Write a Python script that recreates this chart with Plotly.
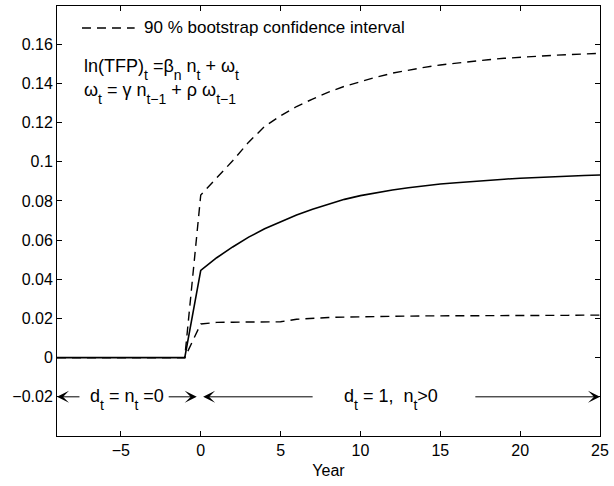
import plotly.graph_objects as go

# ---- data ----
years = [-9, -8, -7, -6, -5, -4, -3, -2, -1,
         0, 1, 2, 3, 4, 5, 6, 7, 8, 9, 10, 11, 12, 13, 14, 15, 16, 17, 18, 19, 20,
         21, 22, 23, 24, 25]
irf = [0, 0, 0, 0, 0, 0, 0, 0, 0,
       0.0445, 0.0510, 0.0565, 0.0615, 0.0658, 0.0695, 0.0728, 0.0758, 0.0785, 0.0808,
       0.0827, 0.0843, 0.0856, 0.0867, 0.0877, 0.0886, 0.0893, 0.0900, 0.0906, 0.0911,
       0.0916, 0.0920, 0.0924, 0.0927, 0.0930, 0.0932]
upper = [0, 0, 0, 0, 0, 0, 0, 0, 0,
         0.0830, 0.0915, 0.1005, 0.1100, 0.1180, 0.1235, 0.1282, 0.1320, 0.1355, 0.1385,
         0.1410, 0.1432, 0.1452, 0.1468, 0.1482, 0.1494, 0.1504, 0.1513, 0.1521, 0.1528,
         0.1534, 0.1539, 0.1543, 0.1547, 0.1550, 0.1553]
lower = [0, 0, 0, 0, 0, 0, 0, 0, 0,
         0.0172, 0.0180, 0.0181, 0.0181, 0.0181, 0.0183, 0.0196, 0.0202, 0.0205, 0.0207,
         0.0209, 0.0210, 0.0211, 0.0212, 0.0213, 0.0213, 0.0214, 0.0214, 0.0215, 0.0215,
         0.0215, 0.0216, 0.0216, 0.0216, 0.0217, 0.0217]

x_ticks = [-5, 0, 5, 10, 15, 20, 25]
x_tick_labels = ["\u22125", "0", "5", "10", "15", "20", "25"]
y_ticks = [-0.02, 0, 0.02, 0.04, 0.06, 0.08, 0.1, 0.12, 0.14, 0.16]
y_tick_labels = ["\u22120.02", "0", "0.02", "0.04", "0.06", "0.08", "0.1", "0.12", "0.14", "0.16"]

legend_label = "90 % bootstrap confidence interval"


def sb(s):
    # MATLAB-like subscript: large and dropped well below the baseline
    return f'<span style="font-size:14px;baseline-shift:-8px">{s}</span>'


eq1 = f"ln(TFP){sb('t')} =\u03b2{sb('n')} n{sb('t')} + \u03c9{sb('t')}"
eq2 = f"\u03c9{sb('t')} = \u03b3 n{sb('t\u22121')} + \u03c1 \u03c9{sb('t\u22121')}"
regime1 = f"d{sb('t')} = n{sb('t')} =0"
regime2 = f"d{sb('t')} = 1,&nbsp; n{sb('t')}&gt;0"

FONT = "Liberation Sans, Arial, Helvetica, sans-serif"
dash = "9px,6px"

fig = go.Figure()
fig.add_trace(go.Scatter(x=years, y=upper, mode="lines",
                         line=dict(color="black", width=1.4, dash=dash), showlegend=False))
fig.add_trace(go.Scatter(x=years, y=lower, mode="lines",
                         line=dict(color="black", width=1.4, dash=dash), showlegend=False))
fig.add_trace(go.Scatter(x=years, y=irf, mode="lines",
                         line=dict(color="black", width=1.6), showlegend=False))

# legend sample (dashed line + text)
fig.add_shape(type="line", xref="paper", yref="paper", x0=0.046, x1=0.143, y0=0.949, y1=0.949,
              line=dict(color="black", width=1.4, dash=dash))
fig.add_annotation(xref="paper", yref="paper", x=0.157, y=0.949, text=legend_label,
                   showarrow=False, xanchor="left", yanchor="middle", font=dict(size=17))

# equations
fig.add_annotation(xref="paper", yref="paper", x=0.046, y=0.853, text=eq1,
                   showarrow=False, xanchor="left", yanchor="middle", font=dict(size=18))
fig.add_annotation(xref="paper", yref="paper", x=0.046, y=0.796, text=eq2,
                   showarrow=False, xanchor="left", yanchor="middle", font=dict(size=18))

# regime arrows
arrows = [(-9.0, -7.5), (-0.25, -2.1), (0.15, 7.1), (25.0, 17.1)]
for head, tail in arrows:
    fig.add_annotation(x=head, y=-0.02, ax=tail, ay=-0.02, xref="x", yref="y",
                       axref="x", ayref="y", text="", showarrow=True,
                       arrowhead=3, arrowsize=2, arrowwidth=1, arrowcolor="black", standoff=0)
fig.add_annotation(x=-4.6, y=-0.02, xref="x", yref="y", text=regime1, showarrow=False,
                   xanchor="center", yanchor="middle", yshift=-3, font=dict(size=18))
fig.add_annotation(x=11.9, y=-0.02, xref="x", yref="y", text=regime2, showarrow=False,
                   xanchor="center", yanchor="middle", yshift=-3, font=dict(size=18))

axis_common = dict(showline=True, linecolor="black", linewidth=1, mirror="ticks",
                   ticks="inside", ticklen=5, tickcolor="black", tickwidth=1,
                   showgrid=False, zeroline=False, tickfont=dict(size=16, color="black"))
fig.update_xaxes(range=[-9, 25], tickvals=x_ticks, ticktext=x_tick_labels,
                 title=dict(text="Year", font=dict(size=16, color="black"), standoff=6),
                 **axis_common)
fig.update_yaxes(range=[-0.04, 0.1795], tickvals=y_ticks, ticktext=y_tick_labels,
                 **axis_common)

fig.update_layout(width=614, height=486, margin=dict(l=57, r=11, t=5, b=50),
                  plot_bgcolor="white", paper_bgcolor="white",
                  font=dict(family=FONT, size=16, color="black"), showlegend=False)

fig.write_html("out.html", config={"displayModeBar": False},
               post_script="document.body.style.margin='0px';")
